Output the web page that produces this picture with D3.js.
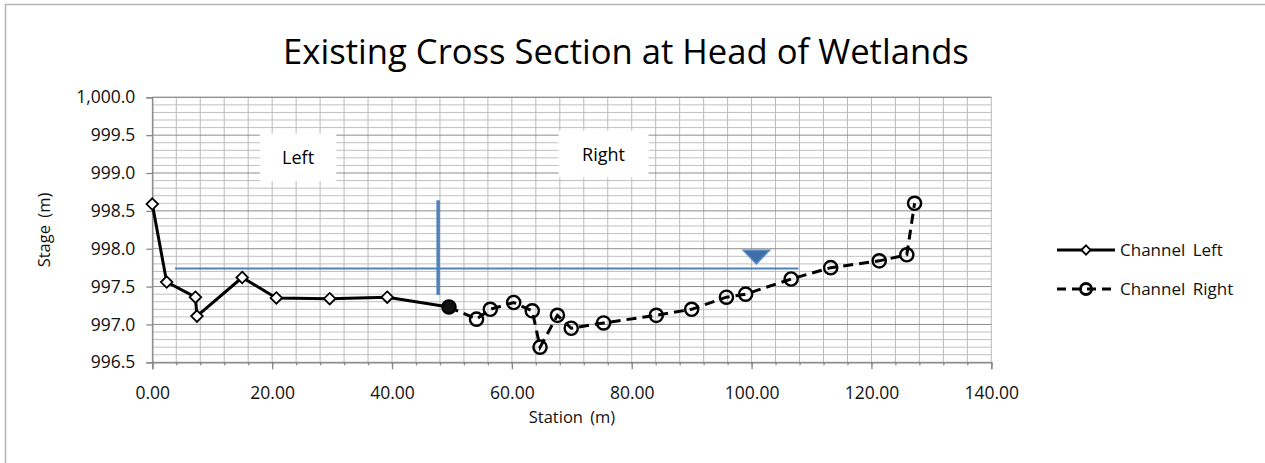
<!DOCTYPE html>
<html><head><meta charset="utf-8">
<script src="https://cdn.jsdelivr.net/npm/d3@7"></script>
<style>
body{margin:0;background:#fff}
svg{display:block;font-family:"Open Sans",sans-serif}
</style>
</head><body>
<svg id="c" width="1265" height="463"></svg>
<script>
// ---- data ----
const leftStation = [0.0, 2.4, 7.2, 7.45, 15.0, 20.7, 29.6, 39.2, 49.5];
const leftStage   = [998.59, 997.56, 997.36, 997.11, 997.62, 997.35, 997.34, 997.36, 997.23];
const rightStation = [49.5, 54.1, 56.4, 60.3, 63.4, 64.7, 67.6, 69.9, 75.3, 84.1, 90.0, 95.8, 99.0, 106.6, 113.2, 121.3, 125.9, 127.2];
const rightStage   = [997.23, 997.07, 997.20, 997.29, 997.18, 996.70, 997.12, 996.95, 997.02, 997.12, 997.20, 997.36, 997.40, 997.60, 997.75, 997.84, 997.92, 998.60];
const xTicks = [0, 20, 40, 60, 80, 100, 120, 140];
const yTicks = [996.5, 997.0, 997.5, 998.0, 998.5, 999.0, 999.5, 1000.0];
const seriesNames = ["Channel Left", "Channel Right"];
// annotations (data coordinates)
const waterSurface = {from: 3.8, to: 107.8, stage: 997.74};
const divider = {station: 47.7, low: 997.39, high: 998.64};
const wsSymbol = {station: 100.8, top: 997.98, bottom: 997.80, half: 2.2};
const labelBoxes = [
  {text: "Left",  x0: 17.95, x1: 30.7, y0: 998.89, y1: 999.52},
  {text: "Right", x0: 67.8,  x1: 82.8, y0: 998.94, y1: 999.56}
];

const svg = d3.select("#c");
const x = d3.scaleLinear().domain([0, 140]).range([152.3, 991.3]);
const y = d3.scaleLinear().domain([996.5, 1000]).range([362.3, 97.3]);

// outer chart border
svg.append("rect").attr("x", 5.5).attr("y", 4.5).attr("width", 1300).attr("height", 500)
  .attr("fill", "#fff").attr("stroke", "#b4b4b4").attr("stroke-width", 1.5);

// title
const title = svg.append("text").attr("x", 626).attr("y", 64).attr("text-anchor", "middle")
  .attr("font-size", 32).attr("fill", "#000").text("Existing Cross Section at Head of Wetlands");
{
  const w = title.node().getComputedTextLength();
  title.attr("font-size", 32 * 686 / w);
}

// gridlines
const g = svg.append("g");
const vLines = d3.range(0, 140.001, 4);
g.selectAll("line.v").data(vLines).join("line")
  .attr("x1", d => x(d)).attr("x2", d => x(d)).attr("y1", y(1000)).attr("y2", y(996.5))
  .attr("stroke", "#b8b8b8").attr("stroke-width", 1);
const hLines = d3.range(0, 36).map(i => 996.5 + i * 0.1);
g.selectAll("line.h").data(hLines).join("line")
  .attr("x1", x(0)).attr("x2", x(140)).attr("y1", d => y(d)).attr("y2", d => y(d))
  .attr("stroke", (d, i) => i % 5 === 0 ? "#8c8c8c" : "#c0c0c0").attr("stroke-width", 1);
svg.append("line").attr("x1", x(0)).attr("x2", x(140)).attr("y1", y(1000)).attr("y2", y(1000))
  .attr("stroke", "#8c8c8c");

// axes
svg.append("g").attr("transform", `translate(${x(0)},0)`)
  .call(d3.axisLeft(y).tickValues(yTicks).tickFormat(d3.format(",.1f")).tickSize(6).tickPadding(11));
svg.append("g").attr("transform", `translate(0,${y(996.5)})`)
  .call(d3.axisBottom(x).tickValues(xTicks).tickFormat(d3.format(".2f")).tickSize(7).tickPadding(17));
svg.append("g").attr("transform", `translate(0,${y(996.5)})`)
  .call(d3.axisBottom(x).tickValues(vLines).tickFormat("").tickSize(3))
  .select(".domain").remove();
svg.selectAll(".domain, .tick line").attr("stroke", "#868686").attr("stroke-width", 1.3);
svg.selectAll(".tick text").attr("font-size", 17.5).attr("fill", "#111")
  .attr("font-family", '"Open Sans",sans-serif');

// axis titles
svg.append("text").attr("transform", "translate(50,230) rotate(-90)").attr("text-anchor", "middle")
  .attr("font-size", 16.5).attr("fill", "#111").attr("word-spacing", 3).text("Stage (m)");
svg.append("text").attr("x", 572).attr("y", 423).attr("text-anchor", "middle")
  .attr("font-size", 16.5).attr("fill", "#111").attr("word-spacing", 3).text("Station (m)");

// label boxes
labelBoxes.forEach(b => {
  svg.append("rect").attr("x", x(b.x0)).attr("y", y(b.y1)).attr("width", x(b.x1) - x(b.x0))
    .attr("height", y(b.y0) - y(b.y1)).attr("fill", "#fff");
  svg.append("text").attr("x", (x(b.x0) + x(b.x1)) / 2).attr("y", (y(b.y0) + y(b.y1)) / 2 + 6.5)
    .attr("text-anchor", "middle").attr("font-size", 18).attr("fill", "#000").text(b.text);
});

// water surface annotations
const blue = "#4f81bd";
svg.append("line").attr("x1", x(waterSurface.from)).attr("x2", x(waterSurface.to))
  .attr("y1", y(waterSurface.stage)).attr("y2", y(waterSurface.stage))
  .attr("stroke", blue).attr("stroke-width", 2);
svg.append("line").attr("x1", x(divider.station)).attr("x2", x(divider.station))
  .attr("y1", y(divider.high)).attr("y2", y(divider.low))
  .attr("stroke", blue).attr("stroke-width", 3.5);
svg.append("path")
  .attr("d", d3.line()([[x(wsSymbol.station - wsSymbol.half), y(wsSymbol.top)],
                        [x(wsSymbol.station + wsSymbol.half), y(wsSymbol.top)],
                        [x(wsSymbol.station), y(wsSymbol.bottom)]]) + "Z")
  .attr("fill", "#3f6ea8").attr("stroke", "#5b8ac4").attr("stroke-width", 1.5);

// series
const leftData = leftStation.map((s, i) => [s, leftStage[i]]);
const rightData = rightStation.map((s, i) => [s, rightStage[i]]);
const line = d3.line().x(d => x(d[0])).y(d => y(d[1]));

svg.append("path").attr("d", line(leftData)).attr("fill", "none").attr("stroke", "#000")
  .attr("stroke-width", 3).attr("stroke-linejoin", "round");
svg.append("path").attr("d", line(rightData)).attr("fill", "none").attr("stroke", "#000")
  .attr("stroke-width", 3).attr("stroke-dasharray", "10,6");

const diamond = d3.symbol().type(d3.symbolDiamond2).size(85);
svg.selectAll("path.dl").data(leftData).join("path")
  .attr("transform", d => `translate(${x(d[0])},${y(d[1])})`)
  .attr("d", diamond).attr("fill", "#fff").attr("stroke", "#000").attr("stroke-width", 1.8);
svg.selectAll("circle.cr").data(rightData).join("circle")
  .attr("cx", d => x(d[0])).attr("cy", d => y(d[1])).attr("r", 6.6)
  .attr("fill", (d, i) => i === 0 ? "#111" : "none").attr("stroke", "#000").attr("stroke-width", 2.4);

// legend
const lg = svg.append("g");
const legY = [250, 289];
seriesNames.forEach((name, i) => {
  const yy = legY[i];
  lg.append("line").attr("x1", 1057).attr("x2", 1115).attr("y1", yy).attr("y2", yy)
    .attr("stroke", "#000").attr("stroke-width", 3)
    .attr("stroke-dasharray", i === 1 ? "9,6" : null);
  if (i === 0) {
    lg.append("path").attr("transform", `translate(1086,${yy})`)
      .attr("d", d3.symbol().type(d3.symbolDiamond2).size(55))
      .attr("fill", "#fff").attr("stroke", "#000").attr("stroke-width", 1.8);
  } else {
    lg.append("circle").attr("cx", 1086).attr("cy", yy).attr("r", 5.5)
      .attr("fill", "none").attr("stroke", "#000").attr("stroke-width", 2.8);
  }
  lg.append("text").attr("x", 1120).attr("y", yy + 6).attr("font-size", 17)
    .attr("fill", "#111").attr("word-spacing", 3).text(name);
});
</script>
</body></html>
